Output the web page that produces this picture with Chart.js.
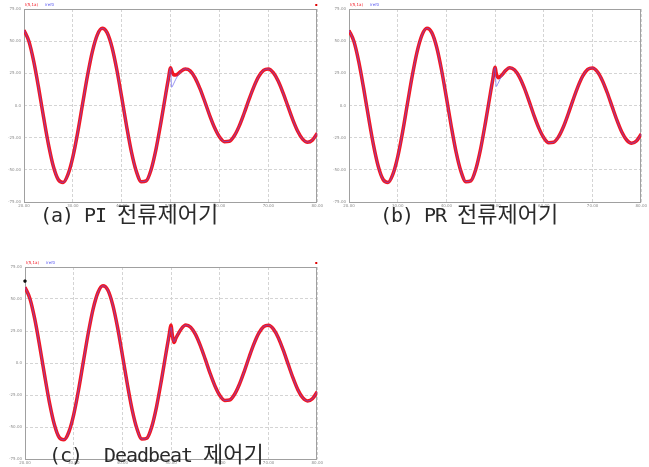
<!DOCTYPE html>
<html lang="ko">
<head>
<meta charset="utf-8">
<title>전류제어기 응답 비교</title>
<script src="https://cdn.jsdelivr.net/npm/chart.js@4.4.1/dist/chart.umd.min.js"></script>
<style>
  html, body { margin: 0; padding: 0; background: #fff; }
  #page { position: relative; width: 649px; height: 467px; overflow: hidden; background: #fff; }
  #page canvas { position: absolute; }
  .cap {
    position: absolute;
    font-family: "DejaVu Sans Mono", monospace;
    font-size: 20px;
    letter-spacing: -1.04px;
    line-height: 22px;
    color: #2a2a2a;
    white-space: pre;
  }
  .cap .ko {
    font-family: "Noto Sans CJK KR", sans-serif;
    font-size: 22px;
    letter-spacing: 0;
  }
</style>
</head>
<body>
<div id="page">
  <canvas id="chartA" width="325" height="212" style="left:0;top:0"></canvas>
  <canvas id="chartB" width="324" height="212" style="left:325px;top:0"></canvas>
  <canvas id="chartC" width="325" height="209" style="left:0;top:258px"></canvas>
  <div class="cap" style="left:40px;top:201px">(a) PI <span class="ko">전류제어기</span></div>
  <div class="cap" style="left:380px;top:201px">(b) PR <span class="ko">전류제어기</span></div>
  <div class="cap" style="left:49px;top:441px">(c)  Deadbeat <span class="ko">제어기</span></div>
</div>

<script>
// time axis (ms) – denser around the step at 50 ms
const timeMs = [
  20, 21, 22, 23, 24, 25, 26, 27, 28, 29, 30, 31, 32, 33, 34, 35, 36, 37, 38, 39,
  40, 41, 42, 43, 44, 45, 46, 47, 48, 49, 49.5, 50, 50.2, 50.6, 51, 51.5, 52,
  53, 54, 55, 56, 57, 58, 59, 60, 61, 62, 63, 64, 65, 66, 67, 68, 69, 70,
  71, 72, 73, 74, 75, 76, 77, 78, 79, 80
];

// (a) PI
const irefA = [
  58.6, 49.9, 34.1, 13.5, -9.0, -30.2, -47.2, -57.5, -59.8, -53.6, -40.0, -20.7, 1.5, 23.4, 42.1, 54.9, 60.0, 56.6, 45.3, 27.6,
  6.1, -16.3, -36.4, -51.4, -59.2, -58.6, -49.9, -34.1, -13.5, 9.0, 19.9, 29.3, 14.2, 16.8, 20.0, 23.4, 26.1,
  28.5, 26.9, 21.5, 13.1, 2.9, -7.8, -17.3, -24.4, -28.1, -27.8, -23.7, -16.2, -6.4, 4.3, 14.3, 22.4, 27.3, 28.4,
  25.5, 19.0, 9.8, -0.7, -11.1, -20.0, -26.1, -28.5, -26.9, -21.5
];
const imeasA = [
  58.6, 49.9, 34.1, 13.5, -9.0, -30.2, -47.2, -57.5, -59.8, -53.6, -40.0, -20.7, 1.5, 23.4, 42.1, 54.9, 60.0, 56.6, 45.3, 27.6,
  6.1, -16.3, -36.4, -51.4, -59.2, -58.6, -49.9, -34.1, -13.5, 9.0, 19.9, 29.4, 27.0, 24.0, 23.7, 24.6, 26.3,
  28.3, 26.9, 21.5, 13.1, 2.9, -7.8, -17.3, -24.4, -28.1, -27.8, -23.7, -16.2, -6.4, 4.3, 14.3, 22.4, 27.3, 28.4,
  25.5, 19.0, 9.8, -0.7, -11.1, -20.0, -26.1, -28.5, -26.9, -21.5
];

// (b) PR
const irefB = [
  58.4, 49.9, 34.1, 13.5, -9.0, -30.2, -47.2, -57.5, -59.8, -53.6, -40.0, -20.7, 1.5, 23.4, 42.1, 54.9, 60.0, 56.6, 45.3, 27.6,
  6.1, -16.3, -36.4, -51.4, -59.2, -58.6, -49.9, -34.1, -13.5, 9.0, 19.9, 29.5, 14.8, 17.2, 20.4, 24.0, 26.8,
  29.3, 27.6, 22.1, 13.5, 3.0, -8.0, -17.8, -25.1, -28.9, -28.6, -24.4, -16.7, -6.6, 4.4, 14.7, 23.0, 28.1, 29.2,
  26.2, 19.5, 10.1, -0.7, -11.4, -20.6, -26.8, -29.3, -27.6, -22.1
];
const imeasB = [
  58.4, 49.9, 34.1, 13.5, -9.0, -30.2, -47.2, -57.5, -59.8, -53.6, -40.0, -20.7, 1.5, 23.4, 42.1, 54.9, 60.0, 56.6, 45.3, 27.6,
  6.1, -16.3, -36.4, -51.4, -59.2, -58.6, -49.9, -34.1, -13.5, 9.0, 19.9, 29.7, 25.6, 21.6, 22.4, 24.2, 26.6,
  29.4, 27.6, 22.1, 13.5, 3.0, -8.0, -17.8, -25.1, -28.9, -28.6, -24.4, -16.7, -6.6, 4.4, 14.7, 23.0, 28.1, 29.2,
  26.2, 19.5, 10.1, -0.7, -11.4, -20.6, -26.8, -29.3, -27.6, -22.1
];

// (c) Deadbeat
const irefC = [
  59.2, 50.4, 34.4, 13.6, -9.1, -30.5, -47.6, -58.0, -59.9, -53.9, -40.3, -20.9, 1.5, 23.6, 42.5, 55.3, 60.3, 57.0, 45.6, 27.8,
  6.1, -16.4, -36.6, -51.6, -59.4, -58.8, -50.1, -34.2, -13.6, 9.0, 19.9, 28.0, 22.0, 16.6, 19.8, 23.2, 26.4,
  29.6, 28.0, 22.4, 13.6, 3.0, -8.1, -18.0, -25.4, -29.2, -28.9, -24.6, -16.8, -6.7, 4.5, 14.9, 23.3, 28.4, 29.5,
  26.5, 19.8, 10.2, -0.7, -11.5, -20.8, -27.1, -29.6, -28.0, -22.4
];
const imeasC = [
  59.2, 50.4, 34.4, 13.6, -9.1, -30.5, -47.6, -58.0, -59.9, -53.9, -40.3, -20.9, 1.5, 23.6, 42.5, 55.3, 60.3, 57.0, 45.6, 27.8,
  6.1, -16.4, -36.6, -51.6, -59.4, -58.8, -50.1, -34.2, -13.6, 9.0, 19.9, 29.6, 23.0, 16.0, 19.5, 23.0, 26.2,
  29.6, 28.0, 22.4, 13.6, 3.0, -8.1, -18.0, -25.4, -29.2, -28.9, -24.6, -16.8, -6.7, 4.5, 14.9, 23.3, 28.4, 29.5,
  26.5, 19.8, 10.2, -0.7, -11.5, -20.8, -27.1, -29.6, -28.0, -22.4
];

// cursor mark on (c)
const cursorTimeC = [20];
const cursorValueC = [64];

const yTicks = [75, 50, 25, 0, -25, -50, -75];
const yTickLabels = ['75.00', '50.00', '25.00', '0.0', '-25.00', '-50.00', '-75.00'];
const xTicks = [20, 30, 40, 50, 60, 70, 80];
const xTickLabels = ['20.00', '30.00', '40.00', '50.00', '60.00', '70.00', '80.00'];
const legendLabels = ['I(5,1a)', 'iref0'];

const RED = 'rgb(242,22,34)';
const BLUE = 'rgba(96,90,235,0.65)';

function toPoints(xs, ys) {
  return xs.map((x, i) => ({ x, y: ys[i] }));
}

// frame, tiny legend text and the red corner mark
const scopePlugin = {
  id: 'scope',
  beforeDatasetsDraw(chart) {
    const { ctx, chartArea: a } = chart;
    ctx.save();
    ctx.strokeStyle = '#a0a0a0';
    ctx.lineWidth = 1;
    ctx.strokeRect(Math.round(a.left) + 0.5, Math.round(a.top) + 0.5,
      Math.round(a.right - a.left) - 1, Math.round(a.bottom - a.top));
    ctx.restore();
  },
  afterDraw(chart, args, opts) {
    const { ctx, chartArea: a } = chart;
    ctx.save();
    ctx.font = '4px "DejaVu Sans"';
    ctx.textBaseline = 'bottom';
    ctx.fillStyle = RED;
    ctx.fillText(legendLabels[0], a.left + 1, a.top - 2);
    ctx.fillStyle = 'rgb(90,90,240)';
    ctx.fillText(legendLabels[1], a.left + 21, a.top - 2);
    if (opts.cornerMark) {
      ctx.fillStyle = '#e00000';
      ctx.fillRect(a.right - 2, a.top - 5, 2, 2);
    }
    ctx.restore();
  }
};

function buildScope(canvasId, ref, meas, cfg) {
  const canvas = document.getElementById(canvasId);
  const datasets = [
    {
      label: legendLabels[1],
      data: toPoints(timeMs, ref),
      borderColor: BLUE,
      borderWidth: 1,
      pointRadius: 0,
      cubicInterpolationMode: 'monotone',
    },
    {
      label: legendLabels[0],
      data: toPoints(timeMs, meas),
      borderColor: RED,
      borderWidth: 3.5,
      pointRadius: 0,
      cubicInterpolationMode: 'monotone',
    },
  ];
  if (cfg.cursor) {
    datasets.unshift({
      label: 'cursor',
      data: toPoints(cfg.cursor[0], cfg.cursor[1]),
      showLine: false,
      pointStyle: 'rect',
      pointRadius: 1.5,
      backgroundColor: '#111',
      borderColor: '#111',
      clip: false,
    });
  }

  return new Chart(canvas.getContext('2d'), {
    type: 'line',
    data: { datasets },
    options: {
      responsive: false,
      animation: false,
      events: [],
      layout: { padding: { top: 9, right: cfg.padRight, left: 0, bottom: 0 } },
      plugins: {
        legend: { display: false },
        tooltip: { enabled: false },
        scope: { cornerMark: cfg.cornerMark },
      },
      scales: {
        x: {
          type: 'linear',
          min: 20,
          max: 80,
          afterBuildTicks: s => { s.ticks = xTicks.map(v => ({ value: v })); },
          afterFit: s => { s.height = cfg.xHeight; },
          ticks: {
            padding: 2,
            maxRotation: 0,
            autoSkip: false,
            font: { size: 4, family: 'DejaVu Sans' },
            color: '#8c8c8c',
            callback: v => xTickLabels[xTicks.indexOf(v)],
          },
          grid: { color: '#d4d4d4', lineWidth: 1, drawTicks: false },
          border: { display: false, dash: [3, 2] },
        },
        y: {
          min: -75,
          max: 75,
          afterBuildTicks: s => { s.ticks = yTicks.map(v => ({ value: v })); },
          afterFit: s => { s.width = cfg.yWidth; },
          ticks: {
            padding: 3,
            autoSkip: false,
            font: { size: 4, family: 'DejaVu Sans' },
            color: '#8c8c8c',
            callback: v => yTickLabels[yTicks.indexOf(v)],
          },
          grid: { color: '#d4d4d4', lineWidth: 1, drawTicks: false },
          border: { display: false, dash: [3, 2] },
        },
      },
    },
    plugins: [scopePlugin],
  });
}

buildScope('chartA', irefA, imeasA, { padRight: 4, xHeight: 10, yWidth: 24, cornerMark: true });
buildScope('chartB', irefB, imeasB, { padRight: 5, xHeight: 10, yWidth: 24, cornerMark: false });
buildScope('chartC', irefC, imeasC, {
  padRight: 4, xHeight: 8, yWidth: 25, cornerMark: true,
  cursor: [cursorTimeC, cursorValueC],
});
</script>
</body>
</html>
